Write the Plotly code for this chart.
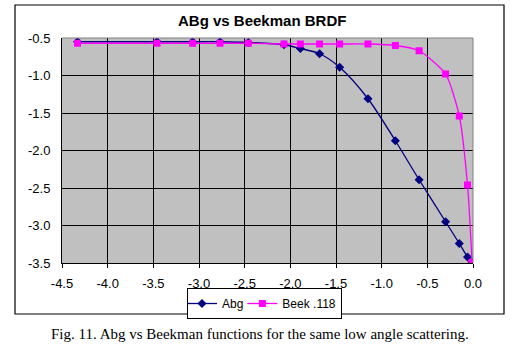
import plotly.graph_objects as go

# Data
x_vals = [-4.33, -3.46, -3.07, -2.77, -2.46, -2.07, -1.89, -1.68, -1.46, -1.15,
          -0.85, -0.59, -0.30, -0.15, -0.06, -0.01]
abg = [-0.55, -0.55, -0.55, -0.55, -0.56, -0.59, -0.64, -0.71, -0.89, -1.31,
       -1.87, -2.39, -2.95, -3.24, -3.42, -3.49]
beek = [-0.57, -0.57, -0.57, -0.57, -0.57, -0.58, -0.58, -0.58, -0.58, -0.58,
        -0.60, -0.67, -0.98, -1.54, -2.46, -3.49]
x_ticks = [-4.5, -4.0, -3.5, -3.0, -2.5, -2.0, -1.5, -1.0, -0.5, 0.0]
y_ticks = [-0.5, -1.0, -1.5, -2.0, -2.5, -3.0, -3.5]

W, H = 521, 353
L, R, T, B = 62, 473, 38, 263


def px(x):
    return (x - L) / (R - L)


def py(y):
    return (B - y) / (B - T)


fig = go.Figure()
fig.add_trace(go.Scatter(
    x=x_vals, y=abg, name="Abg", mode="lines+markers",
    line=dict(color="#000080", width=1.3, shape="spline", smoothing=0.8),
    marker=dict(symbol="diamond", size=7, color="#000080"),
))
fig.add_trace(go.Scatter(
    x=x_vals, y=beek, name="Beek .118", mode="lines+markers",
    line=dict(color="#FF00FF", width=1.3, shape="spline", smoothing=0.6),
    marker=dict(symbol="square", size=7, color="#FF00FF"),
))

font = "Liberation Sans, Arial, sans-serif"
fig.update_layout(
    width=W, height=H,
    margin=dict(l=L, r=W - R, t=T, b=H - B, pad=0),
    paper_bgcolor="white",
    plot_bgcolor="#C0C0C0",
    font=dict(family=font, size=13, color="black"),
    showlegend=True,
    legend=dict(
        orientation="h", x=px(187), y=py(319), xanchor="left", yanchor="bottom",
        bgcolor="white", bordercolor="black", borderwidth=1,
        font=dict(family=font, size=12, color="black"),
        itemwidth=30, tracegroupgap=0, indentation=-6,
    ),
    xaxis=dict(
        range=[-4.5, 0.0], tickvals=x_ticks, ticktext=[f"{v:.1f}" for v in x_ticks],
        showgrid=True, gridcolor="black", gridwidth=1,
        showline=True, linecolor="black", linewidth=1,
        ticks="outside", ticklen=4, tickcolor="black",
        zeroline=False, ticklabelstandoff=4,
    ),
    yaxis=dict(
        range=[-3.5, -0.5], tickvals=y_ticks, ticktext=[f"{v:.1f}" for v in y_ticks],
        showgrid=True, gridcolor="black", gridwidth=1,
        showline=True, linecolor="black", linewidth=1,
        ticks="", zeroline=False, ticklabelstandoff=8,
    ),
    shapes=[
        dict(type="line", xref="paper", yref="paper", x0=0, x1=1, y0=1, y1=1,
             line=dict(color="#808080", width=1), layer="above"),
        dict(type="line", xref="paper", yref="paper", x0=1, x1=1, y0=0, y1=1,
             line=dict(color="#808080", width=1), layer="above"),
        dict(type="rect", xref="paper", yref="paper",
             x0=px(15), x1=px(504), y0=py(314), y1=py(5),
             line=dict(color="black", width=1.2), layer="below"),
    ],
    annotations=[
        dict(text="<b>ABg vs Beekman BRDF</b>", xref="paper", yref="paper",
             x=px(262), y=py(21), xanchor="center", yanchor="middle",
             showarrow=False, font=dict(family=font, size=15, color="black")),
        dict(text="Fig. 11. Abg vs Beekman functions for the same low angle scattering.",
             xref="paper", yref="paper", x=px(260), y=py(334),
             xanchor="center", yanchor="middle", showarrow=False,
             font=dict(family="Liberation Serif, Times New Roman, serif", size=15,
                       color="black")),
    ],
)

fig.write_html("out.html")
